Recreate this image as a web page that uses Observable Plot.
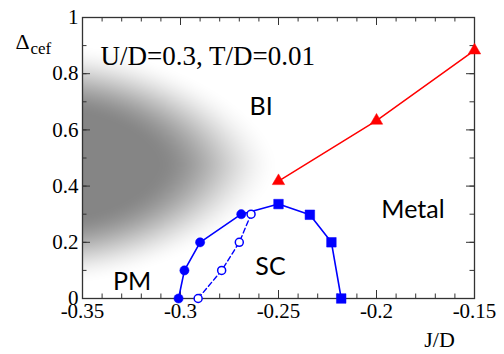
<!DOCTYPE html>
<html>
<head>
<meta charset="utf-8">
<script src="https://cdn.jsdelivr.net/npm/d3@7"></script>
<script src="https://cdn.jsdelivr.net/npm/@observablehq/plot@0.6"></script>
<style>
  html, body { margin: 0; padding: 0; background: #fff; }
  #chart svg { display: block; }
</style>
</head>
<body>
<div id="chart"></div>
<script>
// ---- data ----
const scFilledJ = [-0.301, -0.298, -0.290, -0.269];
const scFilledD = [0, 0.1, 0.2, 0.3];
const scSquareJ = [-0.250, -0.234, -0.223, -0.218];
const scSquareD = [0.336, 0.298, 0.2, 0];
const scOpenJ = [-0.291, -0.279, -0.270, -0.264];
const scOpenD = [0, 0.1, 0.2, 0.3];
const biJ = [-0.25, -0.2, -0.15];
const biD = [0.418, 0.633, 0.883];

const xTicks = [-0.35, -0.3, -0.25, -0.2, -0.15];
const xTickLabels = ["-0.35", "-0.3", "-0.25", "-0.2", "-0.15"];
const yTicks = [0, 0.2, 0.4, 0.6, 0.8, 1];
const yTickLabels = ["0", "0.2", "0.4", "0.6", "0.8", "1"];

const regionNames = ["BI", "Metal", "SC", "PM"];
const regionJ = [-0.2589, -0.1814, -0.2541, -0.3247];
const regionD = [0.654, 0.286, 0.082, 0.032];

const paramText = "U/D=0.3, T/D=0.01";
const paramJ = -0.3408, paramD = 0.832;

// PM crossover shading (blurred wedge), parameters in data units
const shadeCenterJ = -0.36, shadeCenterD = 0.477;
const shadeHalfJ = 0.085, shadeHalfD = 0.33, shadePower = 1.7;

// ---- build tables ----
const filled = scFilledJ.map((x, i) => ({x, y: scFilledD[i]}));
const squares = scSquareJ.map((x, i) => ({x, y: scSquareD[i]}));
const open = scOpenJ.map((x, i) => ({x, y: scOpenD[i]}));
const bi = biJ.map((x, i) => ({x, y: biD[i]}));
const solidLine = filled.concat(squares);
const regions = regionNames.map((t, i) => ({t, x: regionJ[i], y: regionD[i]}));

const xMinor = d3.range(-35, -14).map(i => i / 100);
const yMinor = d3.range(0, 11).map(i => i / 10);
const xLab = new Map(xTicks.map((d, i) => [d, xTickLabels[i]]));
const yLab = new Map(yTicks.map((d, i) => [d, yTickLabels[i]]));

function smoothstep(a, b, t) {
  const u = Math.max(0, Math.min(1, (t - a) / (b - a)));
  return u * u * (3 - 2 * u);
}
function shade(x, y) {
  const u = Math.abs((x - shadeCenterJ) / shadeHalfJ);
  const v = Math.abs((y - shadeCenterD) / shadeHalfD);
  const r = Math.pow(Math.pow(u, shadePower) + Math.pow(v, shadePower), 1 / shadePower);
  return 1 - smoothstep(0.55, 1.3, r);
}

const W = 504, H = 354;
const mL = 82, mR = 30, mT = 17, mB = 56;
const innerW = W - mL - mR, innerH = H - mT - mB;
const majorLen = 8, minorLen = 4.5;
const axisColor = "#333";
const blue = "#0000ff", red = "#ff0000";
const serif = "'Liberation Serif', 'Times New Roman', serif";
const sans = "'Lato', 'Noto Sans', sans-serif";

const chart = Plot.plot({
  width: W, height: H,
  marginLeft: mL, marginRight: mR, marginTop: mT, marginBottom: mB,
  style: {fontFamily: serif, fontSize: "20px", background: "#fff", color: "#000"},
  x: {domain: [-0.35, -0.15], axis: null},
  y: {domain: [0, 1], axis: null},
  color: {type: "linear", domain: [0, 1], range: ["#ffffff", "#858585"], interpolate: "rgb"},
  marks: [
    Plot.raster({x1: -0.35, x2: -0.15, y1: 0, y2: 1, fill: shade, pixelSize: 1}),
    // inward ticks, bottom / top
    Plot.ruleX(xMinor, {stroke: axisColor, strokeWidth: 1, insetTop: innerH - minorLen}),
    Plot.ruleX(xMinor, {stroke: axisColor, strokeWidth: 1, insetBottom: innerH - minorLen}),
    Plot.ruleX(xTicks, {stroke: axisColor, strokeWidth: 1, insetTop: innerH - majorLen}),
    Plot.ruleX(xTicks, {stroke: axisColor, strokeWidth: 1, insetBottom: innerH - majorLen}),
    // inward ticks, left / right
    Plot.ruleY(yMinor, {stroke: axisColor, strokeWidth: 1, insetRight: innerW - minorLen}),
    Plot.ruleY(yMinor, {stroke: axisColor, strokeWidth: 1, insetLeft: innerW - minorLen}),
    Plot.ruleY(yTicks, {stroke: axisColor, strokeWidth: 1, insetRight: innerW - majorLen}),
    Plot.ruleY(yTicks, {stroke: axisColor, strokeWidth: 1, insetLeft: innerW - majorLen}),
    Plot.frame({stroke: axisColor, strokeWidth: 1.3}),
    // tick labels
    Plot.axisX(xTicks, {anchor: "bottom", label: null, tickSize: 0, tickPadding: 5, tickFormat: d => xLab.get(d),
      fontSize: 21, fontFamily: serif, fill: "#000"}),
    Plot.axisY(yTicks, {anchor: "left", label: null, tickSize: 0, tickPadding: 4, tickFormat: d => yLab.get(d),
      fontSize: 21, fontFamily: serif, fill: "#000"}),
    // BI boundary (red)
    Plot.line(bi, {x: "x", y: "y", stroke: red, strokeWidth: 1.5}),
    Plot.dot(bi, {x: "x", y: "y", symbol: "triangle", r: 4.6, fill: red, stroke: red, strokeWidth: 0.5}),
    // SC boundaries (blue)
    Plot.line(open, {x: "x", y: "y", stroke: blue, strokeWidth: 1.4, strokeDasharray: "5,3"}),
    Plot.line(solidLine, {x: "x", y: "y", stroke: blue, strokeWidth: 1.6}),
    Plot.dot(open, {x: "x", y: "y", r: 4, fill: "#fff", stroke: blue, strokeWidth: 1.5}),
    Plot.dot(filled, {x: "x", y: "y", r: 4.6, fill: blue, stroke: blue, strokeWidth: 0.5}),
    Plot.dot(squares, {x: "x", y: "y", symbol: "square", r: 5.4, fill: blue, stroke: blue, strokeWidth: 0.5}),
    // annotations
    Plot.text([paramText], {x: paramJ, y: paramD, text: d => d, textAnchor: "start", lineAnchor: "bottom",
      fontSize: 27, fontFamily: serif, fill: "#000"}),
    Plot.text(regions, {x: "x", y: "y", text: "t", textAnchor: "middle", lineAnchor: "bottom",
      fontSize: 25, fontFamily: sans, fill: "#000"}),
    // axis titles
    Plot.text(["\u0394"], {frameAnchor: "top-left", text: d => d, textAnchor: "start", lineAnchor: "bottom",
      dx: -67, dy: 31, fontSize: 22, fontFamily: serif, fill: "#000"}),
    Plot.text(["cef"], {frameAnchor: "top-left", text: d => d, textAnchor: "start", lineAnchor: "bottom",
      dx: -52, dy: 36, fontSize: 17, fontFamily: serif, fill: "#000"}),
    Plot.text(["J/D"], {frameAnchor: "bottom-right", text: d => d, textAnchor: "middle", lineAnchor: "bottom",
      dx: -35, dy: 48, fontSize: 22, fontFamily: serif, fill: "#000"})
  ]
});
document.getElementById("chart").appendChild(chart);
</script>
</body>
</html>
